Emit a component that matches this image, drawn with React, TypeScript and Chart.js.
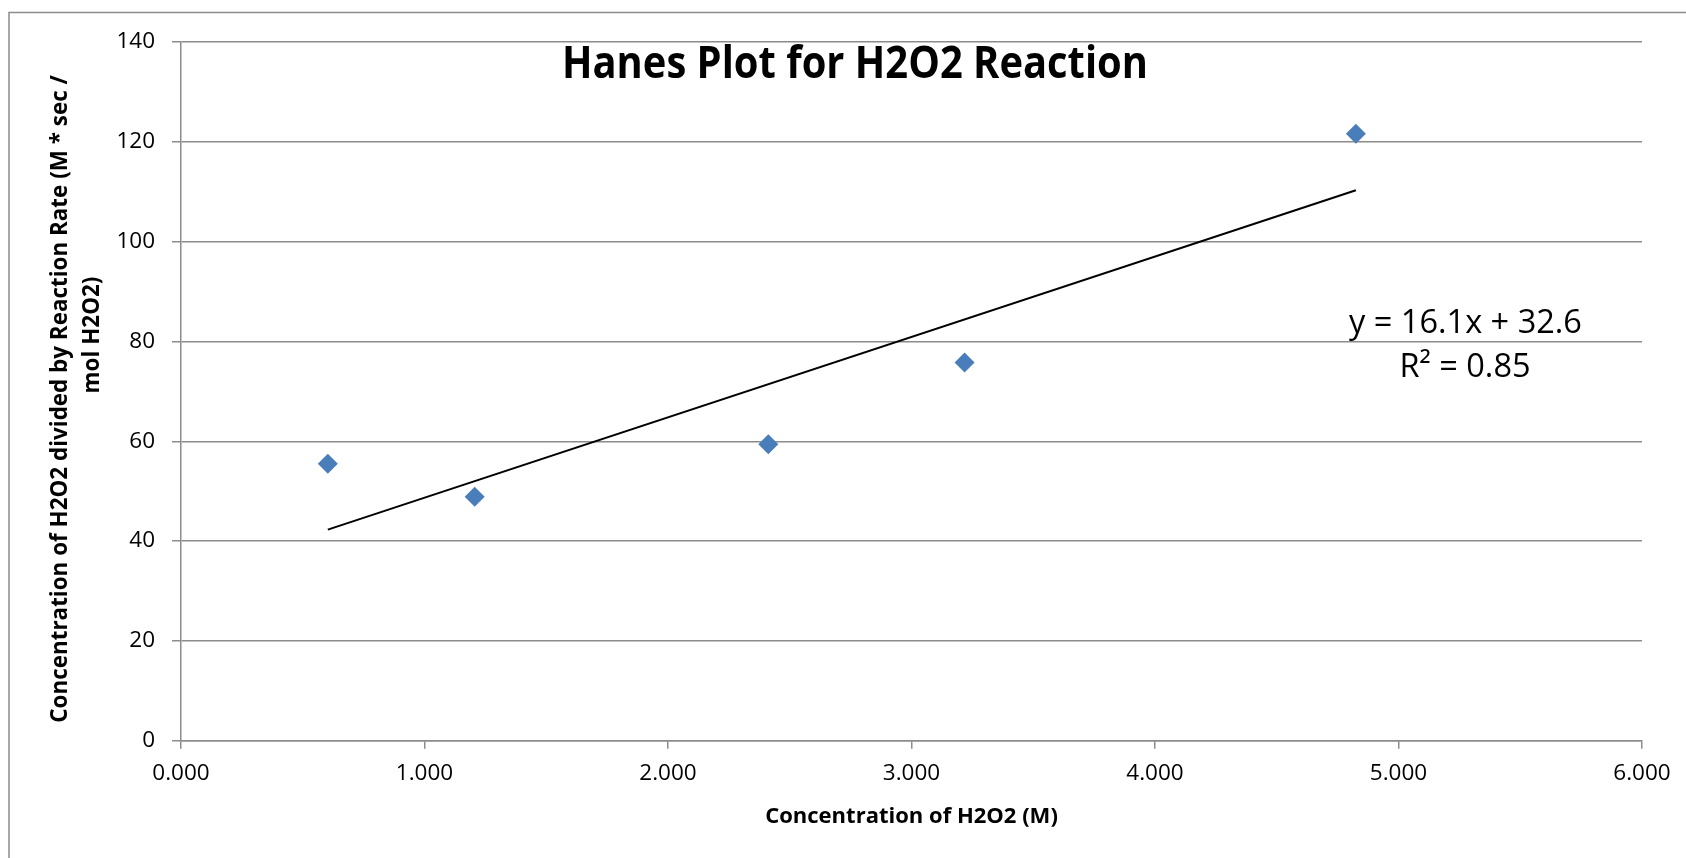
import React, { useEffect, useRef } from 'react';
import { Chart, registerables } from 'chart.js';

Chart.register(...registerables);

// ---- data ----
const concentrations = [0.603, 1.206, 2.412, 3.218, 4.825];
const hanesValues = [55.5, 48.9, 59.4, 75.8, 121.6];
const trendX = [0.603, 4.825];
const trendY = [42.3, 110.3];
const xTickValues = [0, 1, 2, 3, 4, 5, 6];
const yTickValues = [0, 20, 40, 60, 80, 100, 120, 140];
const chartTitle = 'Hanes Plot for H2O2 Reaction';
const xAxisTitle = 'Concentration of H2O2 (M)';
const yAxisTitleLines = ['Concentration of H2O2 divided by Reaction Rate (M * sec /', 'mol H2O2)'];
const equationLines = ['y = 16.1x + 32.6', 'R\u00B2 = 0.85'];

const FAMILY = '"Open Sans", Lato, sans-serif';
const W = 1686;
const H = 858;

function fitSize(ctx: CanvasRenderingContext2D, text: string, weight: string, target: number) {
  ctx.font = `${weight} 100px ${FAMILY}`;
  const w = ctx.measureText(text).width;
  return (100 * target) / w;
}

// draw text at a given size, condensed horizontally to a target width
function drawCondensed(
  ctx: CanvasRenderingContext2D,
  text: string,
  weight: string,
  size: number,
  target: number,
  x: number,
  y: number
) {
  ctx.save();
  ctx.font = `${weight} ${size}px ${FAMILY}`;
  const w = ctx.measureText(text).width;
  ctx.translate(x, y);
  ctx.scale(target / w, 1);
  ctx.fillText(text, 0, 0);
  ctx.restore();
}

const textPlugin = {
  id: 'textPlugin',
  beforeDraw(chart: any) {
    const ctx = chart.ctx as CanvasRenderingContext2D;
    ctx.save();
    ctx.strokeStyle = '#8c8c8c';
    ctx.lineWidth = 1.5;
    ctx.strokeRect(9, 12.5, W + 20, H + 20);
    ctx.restore();
  },
  afterDraw(chart: any) {
    const ctx = chart.ctx as CanvasRenderingContext2D;
    ctx.save();
    ctx.fillStyle = '#000';
    ctx.textAlign = 'center';
    ctx.textBaseline = 'alphabetic';

    // chart title
    drawCondensed(ctx, chartTitle, 'bold', 44, 586, 855, 78);

    // x axis title
    let s = fitSize(ctx, xAxisTitle, 'bold', 293);
    ctx.font = `bold ${s}px ${FAMILY}`;
    ctx.fillText(xAxisTitle, 911.5, 823);

    // y axis title (two lines, rotated)
    s = fitSize(ctx, yAxisTitleLines[0], 'bold', 648);
    ctx.font = `bold ${s}px ${FAMILY}`;
    const yPos = [
      [67, 399],
      [99, 335],
    ];
    yAxisTitleLines.forEach((line, i) => {
      ctx.save();
      ctx.translate(yPos[i][0], yPos[i][1]);
      ctx.rotate(-Math.PI / 2);
      ctx.fillText(line, 0, 0);
      ctx.restore();
    });

    // trendline equation
    s = fitSize(ctx, equationLines[0], 'normal', 233);
    ctx.font = `normal ${s}px ${FAMILY}`;
    ctx.fillText(equationLines[0], 1465.5, 333);
    ctx.fillText(equationLines[1], 1465, 377);
    ctx.restore();
  },
};

export default function App() {
  const canvasRef = useRef<HTMLCanvasElement | null>(null);

  useEffect(() => {
    let chart: Chart | null = null;
    let cancelled = false;
    const make = () => {
      if (cancelled || !canvasRef.current) return;
      const gridColor = '#8c8c8c';
      chart = new Chart(canvasRef.current, {
        type: 'scatter',
        data: {
          datasets: [
            {
              label: 'Hanes',
              data: concentrations.map((x, i) => ({ x, y: hanesValues[i] })),
              pointStyle: 'rectRot',
              pointRadius: 10,
              pointHoverRadius: 10,
              backgroundColor: '#4a7ebb',
              borderColor: '#4a7ebb',
              borderWidth: 0,
              order: 1,
            },
            {
              label: 'Trend',
              data: trendX.map((x, i) => ({ x, y: trendY[i] })),
              showLine: true,
              pointRadius: 0,
              borderColor: '#000000',
              borderWidth: 2,
              backgroundColor: '#000000',
              order: 2,
            },
          ],
        },
        options: {
          responsive: false,
          animation: false,
          events: [],
          layout: { padding: { left: 0, top: 42, right: 44, bottom: 0 } },
          plugins: {
            legend: { display: false },
            title: { display: false },
            tooltip: { enabled: false },
          },
          scales: {
            x: {
              type: 'linear',
              min: 0,
              max: 6,
              afterBuildTicks: (scale: any) => {
                scale.ticks = xTickValues.map((v) => ({ value: v }));
              },
              ticks: {
                callback: (v: any) => Number(v).toFixed(3),
                color: '#000',
                font: { family: FAMILY, size: 22.5 },
                padding: 11,
                maxRotation: 0,
              },
              grid: {
                drawOnChartArea: false,
                drawTicks: true,
                tickLength: 8,
                color: gridColor,
                lineWidth: 1.5,
              },
              border: { display: true, color: gridColor, width: 1.5 },
              afterFit: (scale: any) => {
                scale.height = H - 740.7;
              },
            },
            y: {
              type: 'linear',
              min: 0,
              max: 140,
              afterBuildTicks: (scale: any) => {
                scale.ticks = yTickValues.map((v) => ({ value: v }));
              },
              ticks: {
                color: '#000',
                font: { family: FAMILY, size: 22.5 },
                padding: 17,
              },
              grid: {
                drawTicks: true,
                tickLength: 9,
                color: gridColor,
                lineWidth: 1.5,
              },
              border: { display: true, color: gridColor, width: 1.5 },
              afterFit: (scale: any) => {
                scale.width = 181;
              },
            },
          },
        },
        plugins: [textPlugin],
      } as any);
    };
    const fonts = (document as any).fonts;
    if (fonts && fonts.load) {
      Promise.all([
        fonts.load(`22px "Open Sans"`),
        fonts.load(`bold 22px "Open Sans"`),
      ])
        .catch(() => null)
        .then(make);
    } else {
      make();
    }
    return () => {
      cancelled = true;
      if (chart) chart.destroy();
    };
  }, []);

  return (
    <div style={{ position: 'absolute', left: 0, top: 0, width: W, height: H, background: '#fff' }}>
      <canvas ref={canvasRef} width={W} height={H} style={{ display: 'block', width: W, height: H }} />
    </div>
  );
}
